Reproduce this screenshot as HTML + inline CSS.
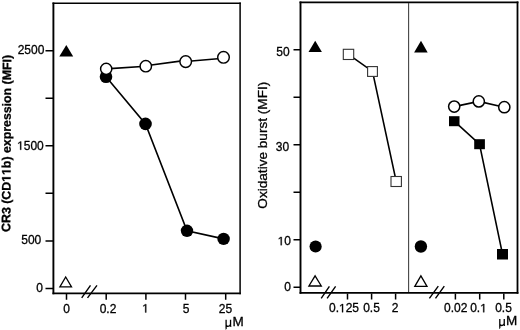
<!DOCTYPE html>
<html><head><meta charset="utf-8">
<style>
html,body{margin:0;padding:0;background:#fff;width:520px;height:330px;overflow:hidden}
svg{display:block;will-change:transform}
text{font-family:"Liberation Sans",sans-serif;fill:#000;stroke:#000;stroke-width:0.3px}
</style></head>
<body>
<svg width="520" height="330" viewBox="0 0 520 330">
<!-- LEFT PANEL frame -->
<g fill="none" stroke="#000">
<path d="M53.4 2.5 V294.2" stroke-width="1.9"/>
<path d="M52.5 293.4 H240.8" stroke-width="1.8"/>
<path d="M52.5 3.2 H240.8" stroke-width="1.6"/>
<path d="M240.1 2.4 V294.2" stroke-width="1.5"/>
</g>
<!-- left y ticks -->
<g stroke="#000" stroke-width="1.5">
<path d="M45.5 50.7H53 M45.5 98.2H53 M45.5 145.8H53 M45.5 193.3H53 M45.5 240.9H53 M45.5 288.4H53"/>
<path d="M66.5 293.5V299.8 M106.2 293.5V299.8 M145.9 293.5V299.8 M185.5 293.5V299.8 M225.7 293.5V299.8"/>
</g>
<!-- break marks left -->
<g stroke="#000" stroke-width="1.4">
<path d="M81.7 297.8L90.5 285.3 M87.5 297.8L97 285.3"/>
</g>
<!-- left y labels -->
<g font-size="12" text-anchor="end">
<text x="44.4" y="54.1">2500</text>
<text x="43.8" y="149.8">&#8199;500</text>
<text x="41.3" y="243.9">500</text>
<text x="43" y="291.6">0</text>
</g>
<g font-size="12" text-anchor="middle">
<text x="66.5" y="312.5">0</text>
<text x="108" y="312.5">0.2</text>
<text x="145.5" y="312.5">&#8199;</text>
<text x="186" y="312.5">5</text>
<text x="225.4" y="312.5">25</text>
</g>
<text x="232.5" y="326" font-size="13.5">M</text>
<path transform="translate(226.1,326.1)" d="M0 -6.4 V2.3 Q0 2.9 -0.6 2.7 M0 -1.6 C0 -0.3 0.8 0.2 1.9 0.2 C3.1 0.2 4.2 -0.6 4.45 -1.9 M4.45 -6.4 V-0.5 C4.45 0 4.7 0.2 5.2 0.1" fill="none" stroke="#000" stroke-width="1.3"/>
<text transform="translate(10.75,143.45) rotate(-89.7)" font-size="12.35" font-weight="bold" text-anchor="middle">CR3 (CD&#8199;&#8199;b) expression (MFI)</text>

<!-- left data -->
<path d="M66.3 45 L73.2 56.5 L59.3 56.5 Z" fill="#000"/>
<path d="M65.7 277 L71.5 286.8 L59.9 286.8 Z" fill="none" stroke="#000" stroke-width="1.3"/>
<g fill="none" stroke="#000" stroke-width="1.6">
<path d="M106 76.7 L145.5 123.9 L187 230.8 L223.6 238.9"/>
</g>
<g fill="#000">
<circle cx="106" cy="76.7" r="6.3"/>
<circle cx="145.5" cy="123.9" r="6.3"/>
<circle cx="187" cy="230.8" r="6.2"/>
<circle cx="223.6" cy="238.9" r="6.2"/>
</g>
<g fill="none" stroke="#000" stroke-width="1.6">
<path d="M106.2 68.9 L145.8 66.2 M145.8 65.7 L185.7 60.4 M185.7 61.5 L223.5 58.2"/>
</g>
<g fill="#fff" stroke="#000" stroke-width="1.45">
<circle cx="106.2" cy="68.9" r="5.6"/>
<circle cx="145.8" cy="66.2" r="5.7"/>
<circle cx="185.7" cy="61.6" r="5.8"/>
<circle cx="223.5" cy="57.3" r="5.8"/>
</g>

<!-- RIGHT PANEL frame -->
<g fill="none" stroke="#000">
<path d="M300.5 1.6 V293.7" stroke-width="1.9"/>
<path d="M299.6 292.8 H518.4" stroke-width="1.8"/>
<path d="M299.55 2.4 H518.4" stroke-width="1.6"/>
<path d="M517.5 1.6 V293.7" stroke-width="1.8"/>
</g>
<path d="M408.6 3 V292" stroke="#444" stroke-width="1.1"/>
<g stroke="#000" stroke-width="1.5">
<path d="M293.5 49.7H301 M293.5 97.2H301 M293.5 144.7H301 M293.5 192.2H301 M293.5 239.7H301 M293.5 287.2H301"/>
<path d="M347.5 293.5V299.5 M371.6 293.5V299.5 M395.6 293.5V299.5 M455.4 293.5V299.5 M479.7 293.5V299.5 M503.8 293.5V299.5"/>
</g>
<g stroke="#000" stroke-width="1.4">
<path d="M321.2 298.3L329.4 286.4 M327.1 298.3L335.6 286.4"/>
<path d="M429.4 298.3L438.3 286.2 M435.5 298.3L444.3 286.2"/>
</g>
<g font-size="12" text-anchor="end">
<text x="289.6" y="55.8">50</text>
<text x="289.2" y="150.5">30</text>
<text x="291" y="245.2">&#8199;0</text>
<text x="291" y="290.9">0</text>
</g>
<g font-size="12" text-anchor="middle">
<text x="344" y="312.3">0.&#8199;25</text>
<text x="371.5" y="312.3">0.5</text>
<text x="395.1" y="312.3">2</text>
<text x="455.8" y="312.3">0.02</text>
<text x="478.5" y="312.3">0.&#8199;</text>
<text x="503.5" y="312.3">0.5</text>
</g>
<text x="506.1" y="325.4" font-size="13.5">M</text>
<path transform="translate(499.8,325.3)" d="M0 -6.4 V2.3 Q0 2.9 -0.6 2.7 M0 -1.6 C0 -0.3 0.8 0.2 1.9 0.2 C3.1 0.2 4.2 -0.6 4.45 -1.9 M4.45 -6.4 V-0.5 C4.45 0 4.7 0.2 5.2 0.1" fill="none" stroke="#000" stroke-width="1.3"/>
<text transform="translate(266.8,145.2) rotate(-90)" font-size="13.6" text-anchor="middle">Oxidative burst (MFI)</text>

<!-- right data -->
<path d="M315.2 40.7 L321.9 52.1 L308.5 52.1 Z" fill="#000"/>
<path d="M421 40.7 L427.7 52.4 L414.1 52.4 Z" fill="#000"/>
<circle cx="315.6" cy="246.5" r="6.1" fill="#000"/>
<circle cx="420.9" cy="246.5" r="6.2" fill="#000"/>
<path d="M315.1 275.8 L321.3 286 L308.9 286 Z" fill="none" stroke="#000" stroke-width="1.3"/>
<path d="M420.9 275.8 L427 286.3 L414.8 286.3 Z" fill="none" stroke="#000" stroke-width="1.3"/>
<g fill="none" stroke="#000" stroke-width="1.6">
<path d="M348.4 54.4 L372.5 71.4 L396.2 181.4"/>
<path d="M454.2 121.2 L479.5 144.2 L502.5 254.2"/>
<path d="M454.2 106.6 L478.8 101.4 L504.3 107.2"/>
</g>
<g fill="#fff" stroke="#333" stroke-width="1.1">
<rect x="343.3" y="49.3" width="10.4" height="10.2"/>
<rect x="367.6" y="66.6" width="9.8" height="9.8"/>
<rect x="391" y="176.5" width="10.4" height="10"/>
</g>
<g fill="#000">
<rect x="449" y="116.2" width="10.5" height="10"/>
<rect x="474.2" y="139.2" width="10.7" height="10"/>
<rect x="497" y="249" width="11" height="10.5"/>
</g>
<g fill="#fff" stroke="#000" stroke-width="1.5">
<circle cx="454.2" cy="106.6" r="5.6"/>
<circle cx="478.8" cy="101.4" r="5.6"/>
<circle cx="504.3" cy="107.2" r="5.6"/>
</g>
<g fill="#000" stroke="#000" stroke-width="51">
<path d="M520 0 L520 1237 L197 1010 L197 1180 L535 1409 L701 1409 L701 0 Z" transform="translate(17.097,149.80) scale(0.005859,-0.005859)"/>
<path d="M520 0 L520 1237 L197 1010 L197 1180 L535 1409 L701 1409 L701 0 Z" transform="translate(142.156,312.50) scale(0.005859,-0.005859)"/>
<path d="M520 0 L520 1237 L197 1010 L197 1180 L535 1409 L701 1409 L701 0 Z" transform="translate(277.641,245.20) scale(0.005859,-0.005859)"/>
<path d="M520 0 L520 1237 L197 1010 L197 1180 L535 1409 L701 1409 L701 0 Z" transform="translate(338.984,312.30) scale(0.005859,-0.005859)"/>
<path d="M520 0 L520 1237 L197 1010 L197 1180 L535 1409 L701 1409 L701 0 Z" transform="translate(480.156,312.30) scale(0.005859,-0.005859)"/>
<g transform="translate(10.75,143.45) rotate(-89.7)"><path d="M478 0 L478 1170 L140 959 L140 1180 L493 1409 L759 1409 L759 0 Z" transform="translate(-38.438,0.00) scale(0.006030,-0.006030)"/><path d="M478 0 L478 1170 L140 959 L140 1180 L493 1409 L759 1409 L759 0 Z" transform="translate(-31.562,0.00) scale(0.006030,-0.006030)"/></g>
</g>
</svg>
</body></html>
